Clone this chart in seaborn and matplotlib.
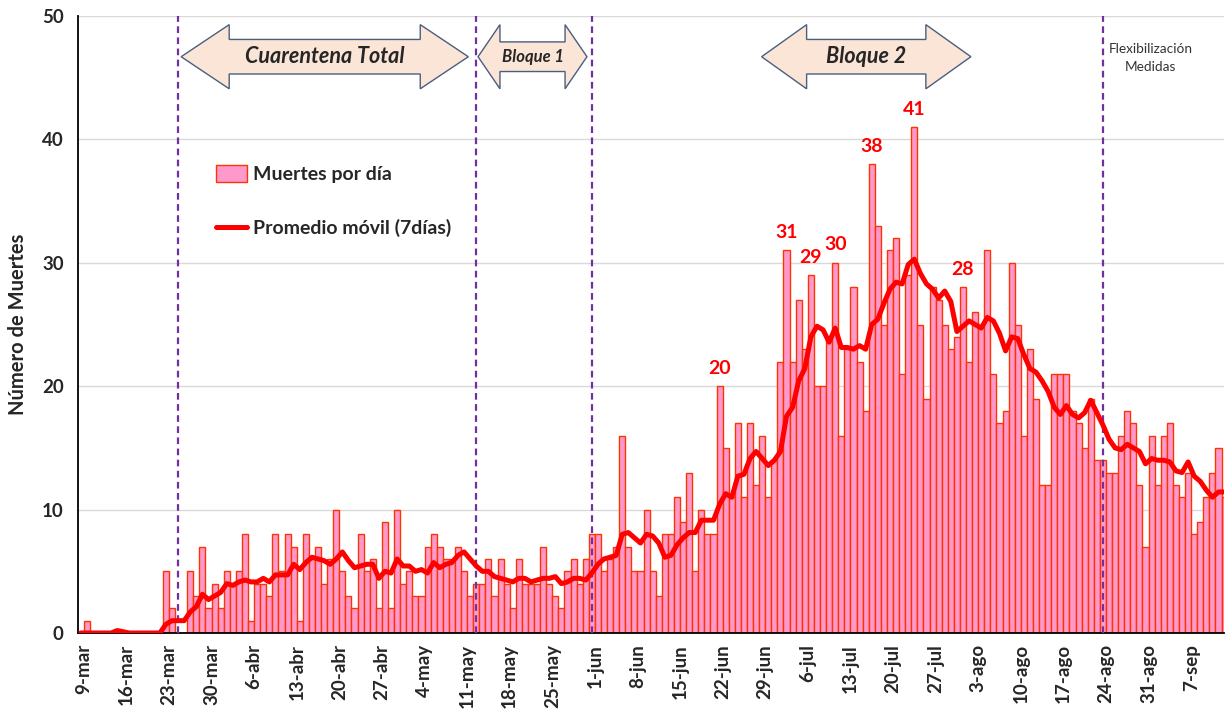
import numpy as np
import pandas as pd
import matplotlib
matplotlib.use("Agg")
import matplotlib.pyplot as plt
import matplotlib.transforms as mtransforms
from matplotlib.patches import Polygon, Patch
from matplotlib.lines import Line2D
import seaborn as sns

# ---------------- data ----------------
first_date = "2020-03-08"      # first category on the axis (8-mar)
reference_date = "2020-03-09"  # day 0 of the axis (9-mar)

deaths = [
    0, 1, 0, 0, 0, 0, 0, 0, 0, 0, 0, 0, 0, 0, 5, 2, 0, 0, 5, 3, 7, 2, 4, 2, 5, 4, 5, 8, 1, 4,
    4, 3, 8, 5, 8, 7, 1, 8, 6, 7, 4, 6, 10, 5, 3, 2, 8, 5, 6, 2, 9, 2, 10, 4, 5, 3, 3, 7, 8, 7,
    6, 6, 7, 5, 3, 4, 4, 6, 3, 6, 4, 2, 6, 4, 4, 4, 7, 4, 3, 2, 5, 6, 4, 6, 8, 8, 5, 6, 7, 16,
    7, 5, 5, 10, 5, 3, 8, 8, 11, 9, 13, 5, 10, 8, 8, 20, 15, 11, 17, 11, 17, 12, 16, 11, 14, 22,
    31, 22, 27, 23, 29, 20, 20, 24, 30, 16, 23, 28, 22, 18, 38, 33, 25, 31, 32, 21, 29, 41, 25, 19,
    28, 27, 25, 23, 24, 28, 22, 26, 25, 31, 21, 17, 18, 30, 25, 16, 23, 19, 12, 12, 21, 21, 21, 18,
    17, 15, 19, 14, 14, 13, 13, 16, 18, 17, 12, 7, 16, 12, 16, 17, 12, 11, 13, 8, 9, 11, 13, 15, 11,
]

moving_avg = [
    0, 0, 0, 0, 0, 0, 0.2, 0.1, 0, 0, 0, 0, 0, 0, 0.71, 1.0, 1.0, 1.0, 1.71, 2.14, 3.14, 2.71,
    3.0, 3.29, 4.0, 3.86, 4.14, 4.29, 4.14, 4.14, 4.43, 4.14, 4.71, 4.71, 4.71, 5.57, 5.14, 5.71,
    6.14, 6.0, 5.86, 5.57, 6.0, 6.57, 5.86, 5.29, 5.43, 5.57, 5.57, 4.43, 5.0, 4.86, 6.0, 5.43,
    5.43, 5.0, 5.14, 4.86, 5.71, 5.29, 5.57, 5.71, 6.29, 6.57, 6.0, 5.43, 5.0, 5.0, 4.57, 4.43,
    4.29, 4.14, 4.43, 4.43, 4.14, 4.29, 4.43, 4.43, 4.57, 4.0, 4.14, 4.43, 4.43, 4.29, 4.86, 5.57,
    6.0, 6.14, 6.29, 8.0, 8.14, 7.71, 7.29, 8.0, 7.86, 7.29, 6.14, 6.29, 7.14, 7.71, 8.14, 8.14,
    9.14, 9.14, 9.14, 10.43, 11.29, 11.0, 12.71, 12.86, 14.14, 14.71, 14.14, 13.57, 14.0, 14.71,
    17.57, 18.29, 20.43, 21.43, 24.0, 24.86, 24.57, 23.57, 24.71, 23.14, 23.14, 23.0, 23.29, 23.0,
    25.0, 25.43, 26.71, 27.86, 28.43, 28.29, 29.86, 30.29, 29.14, 28.29, 27.86, 27.14, 27.71,
    26.86, 24.43, 24.86, 25.29, 25.0, 24.71, 25.57, 25.29, 24.29, 22.86, 24.0, 23.86, 22.57,
    21.43, 21.14, 20.43, 19.57, 18.29, 17.71, 18.43, 17.71, 17.43, 17.86, 18.86, 17.86, 16.86,
    15.71, 15.0, 14.86, 15.29, 15.0, 14.71, 13.71, 14.14, 14.0, 14.0, 13.86, 13.14, 13.0, 13.86,
    12.71, 12.29, 11.57, 11.0, 11.43, 11.43,
]

tick_labels = ["9-mar", "16-mar", "23-mar", "30-mar", "6-abr", "13-abr", "20-abr", "27-abr",
               "4-may", "11-may", "18-may", "25-may", "1-jun", "8-jun", "15-jun", "22-jun",
               "29-jun", "6-jul", "13-jul", "20-jul", "27-jul", "3-ago", "10-ago", "17-ago",
               "24-ago", "31-ago", "7-sep"]

phase_change_dates = ["2020-03-24", "2020-05-12", "2020-05-31", "2020-08-23"]
phase_names = ["Cuarentena Total", "Bloque 1", "Bloque 2"]
phase_arrow_dates = [("2020-03-24", "2020-05-11"), ("2020-05-12", "2020-05-30"),
                     ("2020-06-28", "2020-08-01")]
flex_label = "Flexibilización\nMedidas"

peak_dates = ["2020-06-21", "2020-07-02", "2020-07-06", "2020-07-10",
              "2020-07-16", "2020-07-23", "2020-07-31"]

# ---------------- derived positions ----------------
dates = pd.date_range(first_date, periods=len(deaths), freq="D")
ref = pd.Timestamp(reference_date)
day = np.array([(d - ref).days for d in dates])
df = pd.DataFrame({"day": day, "deaths": deaths, "ma": moving_avg})

def dpos(s):
    return (pd.Timestamp(s) - ref).days

# ---------------- figure ----------------
sns.set_style("white")
plt.rcParams["font.family"] = ["Lato", "DejaVu Sans"]

W, H = 1225, 713
fig = plt.figure(figsize=(W / 100, H / 100), dpi=100)
ax = fig.add_axes([77.7 / W, 1 - 633 / H, (1224 - 77.7) / W, (633 - 16) / H])

sns.barplot(data=df, x="day", y="deaths", native_scale=True, width=1.0,
            color="#FF99CC", saturation=1, edgecolor="#FF3300", linewidth=1.0,
            errorbar=None, ax=ax, zorder=2)
sns.lineplot(data=df, x="day", y="ma", color="#FF0000", linewidth=3.6, ax=ax,
             zorder=4, solid_capstyle="round")

ax.set_xlim(-1.25, 186.9)
ax.set_ylim(0, 50)

# grid / spines
ax.set_axisbelow(True)
ax.yaxis.grid(True, color="#D9D9D9", linewidth=1.0)
ax.xaxis.grid(False)
for s in ["top", "right"]:
    ax.spines[s].set_visible(False)
for s in ["left", "bottom"]:
    ax.spines[s].set_color("black")
    ax.spines[s].set_linewidth(1.3)

# y axis
ax.set_yticks(np.arange(0, 51, 10))
ax.tick_params(axis="y", length=6, width=1.2, color="black", labelsize=13.5, pad=4)
for lab in ax.get_yticklabels():
    lab.set_fontweight("bold")
ax.set_ylabel("Número de Muertes", fontsize=14.5, fontweight="bold")
ax.yaxis.set_label_coords((28 - 77.7) / (1224 - 77.7), 0.5)

# x axis: daily minor ticks, weekly major ticks, rotated labels
label_pos = np.arange(len(tick_labels)) * 7
ax.set_xticks(label_pos - 1.5)
ax.set_xticklabels([])
ax.set_xticks(np.arange(-1, 187) - 0.5, minor=True)
ax.tick_params(axis="x", which="major", direction="inout", length=13, width=1.3, color="black")
ax.tick_params(axis="x", which="minor", direction="out", length=5, width=1.0, color="black")
ax.set_xlabel("")
trans = mtransforms.blended_transform_factory(ax.transData, ax.transAxes)
for p, t in zip(label_pos, tick_labels):
    ax.text(p - 0.5, -0.018, t, transform=trans, rotation=90, ha="center", va="top",
            fontsize=13.5, fontweight="bold")

# phase separators
for d in phase_change_dates:
    ax.axvline(dpos(d), color="#7030A0", linestyle=(0, (3, 2)), linewidth=1.6, zorder=3)

# double-headed block arrows
def darrow(x0, x1, yc, body_half, head_half, head_len, label, fs):
    pts = [(x0, yc), (x0 + head_len, yc + head_half), (x0 + head_len, yc + body_half),
           (x1 - head_len, yc + body_half), (x1 - head_len, yc + head_half), (x1, yc),
           (x1 - head_len, yc - head_half), (x1 - head_len, yc - body_half),
           (x0 + head_len, yc - body_half), (x0 + head_len, yc - head_half)]
    ax.add_patch(Polygon(pts, closed=True, facecolor="#FBE5D6", edgecolor="#4A5E80",
                         linewidth=1.0, zorder=5))
    ax.text((x0 + x1) / 2, yc, label, ha="center", va="center", fontsize=fs,
            fontweight="bold", fontstyle="italic", zorder=6)

darrow(dpos(phase_arrow_dates[0][0]) + 0.5, dpos(phase_arrow_dates[0][1]) - 0.3, 46.7,
       1.4, 2.6, 7.9, phase_names[0], 15.5)
darrow(dpos(phase_arrow_dates[1][0]) + 0.3, dpos(phase_arrow_dates[1][1]) + 0.2, 46.7,
       1.2, 2.6, 3.6, phase_names[1], 12)
darrow(dpos(phase_arrow_dates[2][0]) - 0.1, dpos(phase_arrow_dates[2][1]) + 0.3, 46.7,
       1.4, 2.6, 7.4, phase_names[2], 15.5)

ax.text(174.8, 46.6, flex_label, ha="center", va="center", fontsize=9.8, color="#333333",
        linespacing=1.65)

# peak labels
for pdate in peak_dates:
    d = dpos(pdate)
    v = int(df.loc[df["day"] == d, "deaths"].iloc[0])
    ax.annotate(str(v), (d, v), xytext=(0, 13), textcoords="offset points",
                ha="center", va="center", color="#FF0000", fontsize=14,
                fontweight="bold", zorder=6)

# legend
handles = [Patch(facecolor="#FF99CC", edgecolor="#FF3300", linewidth=1.0),
           Line2D([0], [0], color="#FF0000", linewidth=3.6)]
leg = ax.legend(handles, ["Muertes por día", "Promedio móvil (7días)"],
                loc="upper left", bbox_to_anchor=((206 - 77.7) / (1224 - 77.7), (633 - 155) / 617),
                frameon=False, fontsize=14, labelspacing=1.85, handlelength=1.6,
                handleheight=1.0, handletextpad=0.3, borderpad=0)
for t in leg.get_texts():
    t.set_fontweight("bold")

fig.savefig("out.png", dpi=100, facecolor="white")
